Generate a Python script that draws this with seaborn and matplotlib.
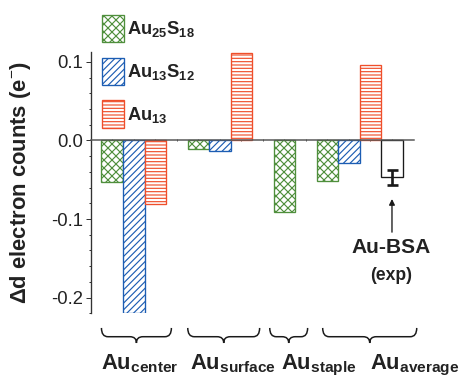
import numpy as np
import pandas as pd
import matplotlib
matplotlib.use("Agg")
import matplotlib.pyplot as plt
from matplotlib.patches import Patch, PathPatch
from matplotlib.path import Path
from matplotlib.ticker import MultipleLocator, FixedLocator
import seaborn as sns

# ---------------- data ----------------
categories = ["center", "surface", "staple", "average"]
series_names = ["Au25S18", "Au13S12", "Au13"]
series_labels = [r"$\mathbf{Au_{25}S_{18}}$", r"$\mathbf{Au_{13}S_{12}}$", r"$\mathbf{Au_{13}}$"]
au25s18 = [-0.053, -0.011, -0.091, -0.051]
au13s12 = [-0.220, -0.014, np.nan, -0.029]
au13 = [-0.081, 0.111, np.nan, 0.096]
exp_name = "Au-BSA"
exp_value = -0.047
exp_error = 0.0098
yticks = [-0.2, -0.1, 0.0, 0.1]
ytick_labels = ["-0.2", "-0.1", "0.0", "0.1"]
category_labels = [r"$\mathbf{Au_{center}}$", r"$\mathbf{Au_{surface}}$",
                   r"$\mathbf{Au_{staple}}$", r"$\mathbf{Au_{average}}$"]

# ---------------- style ----------------
sns.set_style("ticks")
plt.rcParams["font.family"] = ["Liberation Sans", "DejaVu Sans"]
plt.rcParams["mathtext.fontset"] = "custom"
plt.rcParams["mathtext.rm"] = "Liberation Sans"
plt.rcParams["mathtext.bf"] = "Liberation Sans:bold"
plt.rcParams["mathtext.it"] = "Liberation Sans:italic"
plt.rcParams["hatch.linewidth"] = 0.7

colors = {"Au25S18": "#4f8f3c", "Au13S12": "#1c5db3", "Au13": "#ef4f2b", "exp": "#1a1a1a"}
hatches = {"Au25S18": "xxxxx", "Au13S12": "//////", "Au13": "------", "exp": ""}
text_color = "#222222"

# ---------------- table ----------------
series_values = [au25s18, au13s12, au13]
rows = []
start = 0
group_starts = []
for ci, cat in enumerate(categories):
    group_starts.append(start)
    n = 0
    for si, name in enumerate(series_names):
        v = series_values[si][ci]
        if not np.isnan(v):
            rows.append({"slot": start + si, "value": v, "series": name, "category": cat})
            n += 1
    start += n + 1
exp_slot = group_starts[-1] + len(series_names)
rows.append({"slot": exp_slot, "value": exp_value, "series": "exp", "category": "average"})
df = pd.DataFrame(rows)

# ---------------- figure ----------------
dpi = 120
fig = plt.figure(figsize=(459 / dpi, 377 / dpi), dpi=dpi)
ax = fig.add_axes([90.7 / 459, 1 - 313.3 / 377, 322.8 / 459, 261.6 / 377])

hue_order = series_names + ["exp"]
sns.barplot(data=df, x="slot", y="value", hue="series", hue_order=hue_order,
            palette=colors, native_scale=True, dodge=False, width=1,
            errorbar=None, legend=False, ax=ax)

for cont, name in zip(ax.containers, hue_order):
    for bar in cont:
        bar.set_facecolor("white")
        bar.set_edgecolor(colors[name])
        bar.set_hatch(hatches[name])
        bar.set_linewidth(0.8)

ax.errorbar([exp_slot], [exp_value], yerr=[exp_error], fmt="none", ecolor="#1a1a1a",
            elinewidth=1.6, capsize=3.3, capthick=1.6, zorder=5)

ax.set_xlim(-1, 14)
ax.set_ylim(-0.22, 0.113)

# axes styling
for s in ["top", "right"]:
    ax.spines[s].set_visible(False)
ax.spines["left"].set_color("#333333")
ax.spines["left"].set_linewidth(0.8)
ax.spines["bottom"].set_position(("data", 0))
ax.spines["bottom"].set_color("#555555")
ax.spines["bottom"].set_linewidth(0.9)

ax.yaxis.set_major_locator(FixedLocator(yticks))
ax.set_yticklabels(ytick_labels)
ax.yaxis.set_minor_locator(MultipleLocator(0.02))
ax.tick_params(axis="y", which="major", length=2.8, width=0.6, pad=1.6,
               labelsize=11.1, colors="#333333", labelcolor=text_color)
ax.tick_params(axis="y", which="minor", length=1.5, width=0.6, colors="#333333")
ax.set_xticks(range(0, 14))
ax.tick_params(axis="x", which="major", length=1.4, width=0.6, direction="inout",
               labelbottom=False, colors="#555555")
ax.set_xlabel("")
ax.set_ylabel("Δd electron counts (e$^{-}$)", fontsize=13.2, fontweight="bold",
              color=text_color)
ax.yaxis.set_label_coords(-0.178, 0.5)

# legend
handles = [Patch(facecolor="white", edgecolor=colors[n], hatch=hatches[n], linewidth=0.8)
           for n in series_names]
fig.legend(handles, series_labels, loc="upper left",
           bbox_to_anchor=(101.7 / 459, 1 - 15 / 377), frameon=False,
           borderpad=0, borderaxespad=0, fontsize=11, handlelength=1.22,
           handleheight=1.9, labelspacing=0.85, handletextpad=0.15,
           labelcolor=text_color)

# arrow + experiment label
ax.annotate("", xy=(exp_slot, -0.0745), xytext=(exp_slot, -0.1167),
            arrowprops=dict(arrowstyle="-|>", color="#1a1a1a", lw=0.8,
                            mutation_scale=7, shrinkA=0, shrinkB=0))
ax.text(exp_slot - 0.05, -0.1362, exp_name, ha="center", va="center",
        fontsize=12.6, fontweight="bold", color=text_color)
ax.text(exp_slot - 0.05, -0.1718, "(exp)", ha="center", va="center",
        fontsize=10.5, fontweight="bold", color=text_color)

# braces under the groups
brace_spans = [(-0.5, 2.75), (3.51, 6.85), (7.32, 9.08), (9.78, 14.15)]
trans = ax.get_xaxis_transform()
yt, ym, yb = -0.056, -0.0895, -0.1135
for x0, x1 in brace_spans:
    xc = 0.5 * (x0 + x1)
    dx = 0.3
    verts = [(x0, yt), (x0, ym), (x0 + dx, ym), (xc - dx, ym),
             (xc, ym), (xc, yb), (xc, ym), (xc + dx, ym),
             (x1 - dx, ym), (x1, ym), (x1, yt)]
    codes = [Path.MOVETO, Path.CURVE3, Path.CURVE3, Path.LINETO,
             Path.CURVE3, Path.CURVE3, Path.CURVE3, Path.CURVE3,
             Path.LINETO, Path.CURVE3, Path.CURVE3]
    ax.add_patch(PathPatch(Path(verts, codes), facecolor="none", edgecolor="#1a1a1a",
                           lw=0.9, transform=trans, clip_on=False))

label_left = [-0.5, 3.6, 7.86, 11.97]
for xl, lab in zip(label_left, category_labels):
    ax.text(xl, -0.216, lab, transform=trans, ha="left", va="baseline",
            fontsize=13.2, color=text_color, clip_on=False)

fig.savefig("out.png", dpi=dpi)
